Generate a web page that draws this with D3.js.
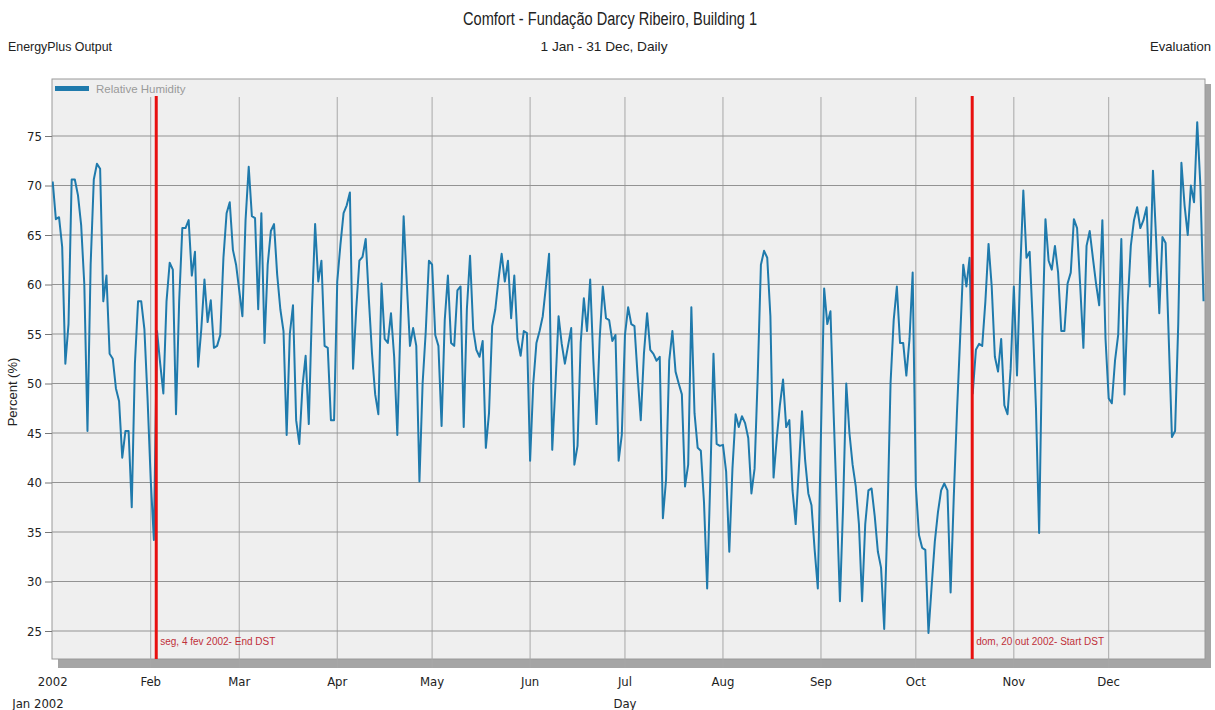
<!DOCTYPE html>
<html>
<head>
<meta charset="utf-8">
<script src="https://cdn.jsdelivr.net/npm/d3@7"></script>
<style>
  body { margin: 0; background: #fff; }
  svg { display: block; }
  text { font-family: "Liberation Sans Narrow", "DejaVu Sans Condensed", "Arial Narrow", sans-serif; }
</style>
</head>
<body>
<div id="chart"></div>
<script>
// daily relative humidity (%), 1 Jan - 31 Dec 2002
var humidity = [
  70.4, 66.6, 66.8, 63.8, 52.0, 56.0, 70.6, 70.6, 69.0, 66.0,
  60.0, 45.2, 62.0, 70.6, 72.2, 71.7, 58.3, 60.9, 53.0, 52.5,
  49.5, 48.2, 42.5, 45.2, 45.2, 37.5, 52.0, 58.3, 58.3, 55.5,
  48.5, 40.3, 34.2, 55.3, 52.0, 49.0, 58.3, 62.2, 61.5, 46.9,
  58.3, 65.7, 65.7, 66.5, 60.9, 63.3, 51.7, 55.5, 60.5, 56.2,
  58.4, 53.6, 53.8, 54.9, 62.7, 67.2, 68.3, 63.5, 62.0, 59.4,
  56.8, 66.5, 71.9, 66.9, 66.7, 57.5, 67.2, 54.1, 62.0, 65.4,
  66.1, 61.0, 57.5, 55.3, 44.8, 55.0, 57.9, 46.3, 43.9, 49.7,
  52.8, 45.9, 57.5, 66.1, 60.3, 62.4, 53.8, 53.6, 46.3, 46.3,
  60.3, 64.0, 67.2, 68.0, 69.3, 51.5, 57.5, 62.4, 62.8, 64.6,
  58.5, 53.0, 48.9, 46.9, 60.1, 54.5, 54.1, 57.1, 52.7, 44.8,
  56.0, 66.9, 60.1, 53.8, 55.6, 53.8, 40.1, 50.0, 55.3, 62.4,
  62.0, 54.9, 53.8, 45.7, 56.4, 60.9, 54.1, 53.8, 59.4, 59.8,
  45.6, 57.5, 62.9, 55.5, 53.4, 52.7, 54.3, 43.5, 47.0, 55.8,
  57.5, 60.5, 63.1, 60.3, 62.4, 56.6, 60.9, 54.5, 52.8, 55.3,
  55.1, 42.2, 50.0, 54.1, 55.3, 56.8, 59.8, 63.1, 43.3, 49.7,
  56.8, 54.0, 52.0, 53.8, 55.6, 41.8, 43.7, 54.1, 58.6, 55.3,
  60.5, 52.3, 45.9, 54.5, 59.8, 56.6, 56.4, 54.3, 54.9, 42.2,
  44.8, 54.9, 57.7, 56.0, 55.8, 50.8, 46.3, 53.0, 57.1, 53.4,
  53.0, 52.3, 52.7, 36.4, 40.3, 52.3, 55.3, 51.2, 50.0, 48.9,
  39.6, 41.8, 57.7, 47.0, 43.5, 43.2, 38.0, 29.3, 40.3, 53.0,
  43.9, 43.7, 43.8, 41.1, 33.0, 41.4, 46.9, 45.6, 46.7, 46.0,
  44.5, 38.9, 41.4, 50.8, 62.0, 63.4, 62.7, 56.8, 40.5, 44.4,
  47.8, 50.4, 45.6, 46.3, 39.2, 35.8, 41.4, 47.2, 42.2, 38.9,
  37.7, 33.2, 29.3, 45.0, 59.6, 56.0, 57.3, 47.0, 37.7, 28.0,
  37.7, 50.0, 45.0, 41.8, 39.6, 35.8, 28.0, 35.8, 39.2, 39.4,
  36.6, 33.0, 31.4, 25.2, 36.0, 50.0, 56.4, 59.8, 54.1, 54.1,
  50.8, 54.5, 61.2, 39.6, 34.7, 33.4, 33.2, 24.8, 29.5, 34.0,
  37.0, 39.2, 39.9, 39.2, 28.9, 38.5, 47.0, 54.5, 62.0, 59.8,
  62.7, 49.0, 53.4, 54.0, 53.8, 58.3, 64.1, 59.8, 52.7, 51.2,
  54.5, 47.8, 46.9, 51.5, 59.8, 50.8, 61.2, 69.5, 62.7, 63.3,
  56.0, 47.5, 34.9, 54.5, 66.6, 62.4, 61.5, 63.9, 61.2, 55.3,
  55.3, 60.1, 61.2, 66.6, 65.7, 59.8, 53.6, 63.9, 65.4, 62.7,
  60.1, 57.9, 66.5, 54.5, 48.5, 48.0, 52.3, 54.9, 64.6, 48.9,
  58.0, 63.9, 66.5, 67.8, 65.7, 66.5, 67.8, 59.8, 71.5, 64.6,
  57.1, 64.8, 64.2, 54.5, 44.6, 45.2, 56.0, 72.3, 68.0, 65.0,
  70.0, 68.3, 76.4, 70.0, 58.3
];

var yTicks = [25, 30, 35, 40, 45, 50, 55, 60, 65, 70, 75];
var monthTicks = ["2002", "Feb", "Mar", "Apr", "May", "Jun", "Jul", "Aug", "Sep", "Oct", "Nov", "Dec"];

// DST markers (positions)
var markerDates = [new Date(2002, 1, 2, 18), new Date(2002, 9, 18, 20)];
var markerLabels = ["seg, 4 fev 2002- End DST", "dom, 20 out 2002- Start DST"];

var width = 1215, height = 710;
var plot = { left: 52, top: 79, right: 1205, bottom: 659 };

var svg = d3.select("#chart").append("svg")
  .attr("width", width).attr("height", height);

var start = new Date(2002, 0, 1);
var data = humidity.map(function(v, i)
{
  return { date: d3.timeDay.offset(start, i), value: v };
});

var xScale = d3.scaleTime()
  .domain([start, new Date(2003, 0, 1)])
  .range([52.7, 1206.7]);
var yScale = d3.scaleLinear().domain([25, 75]).range([631, 136]);

// header texts (squeezed to the narrow face of the original)
function header(x, y, anchor, size, len, str)
{
  svg.append("text").attr("x", x).attr("y", y).attr("text-anchor", anchor)
    .style("font-size", size + "px").attr("fill", "#222")
    .attr("textLength", len).attr("lengthAdjust", "spacingAndGlyphs")
    .style("font-family", "'Liberation Sans', Arial, sans-serif")
    .text(str);
}
header(610, 25, "middle", 18, 294, "Comfort - Fundação Darcy Ribeiro, Building 1");
header(604, 51, "middle", 13, 127, "1 Jan - 31 Dec, Daily");
header(8, 51, "start", 13, 104, "EnergyPlus Output");
header(1211, 51, "end", 13, 61, "Evaluation");

// shadow + plot frame
svg.append("rect").attr("x", plot.left + 6).attr("y", plot.top + 5)
  .attr("width", plot.right - plot.left).attr("height", plot.bottom - plot.top + 4)
  .attr("fill", "#a5a5a5");
svg.append("rect").attr("x", plot.left).attr("y", plot.top)
  .attr("width", plot.right - plot.left).attr("height", plot.bottom - plot.top)
  .attr("fill", "#efefef").attr("stroke", "#9a9a9a").attr("stroke-width", 1);

var months = d3.timeMonth.range(start, new Date(2002, 11, 2));

// vertical grid lines
svg.append("g").selectAll("line").data(months.slice(1)).enter().append("line")
  .attr("x1", function(d) { return xScale(d); })
  .attr("x2", function(d) { return xScale(d); })
  .attr("y1", 97).attr("y2", plot.bottom + 9)
  .attr("stroke", "#a8a8a8").attr("stroke-width", 1);

// horizontal grid lines
svg.append("g").selectAll("line").data(yTicks).enter().append("line")
  .attr("x1", plot.left).attr("x2", plot.right)
  .attr("y1", function(d) { return yScale(d); })
  .attr("y2", function(d) { return yScale(d); })
  .attr("stroke", "#939393").attr("stroke-width", 1.2);

// y axis
var yAxisCall = d3.axisLeft(yScale).tickValues(yTicks).tickSize(7).tickPadding(3);
var yAxis = svg.append("g").attr("transform", "translate(" + plot.left + ",0)").call(yAxisCall);
yAxis.select(".domain").remove();
yAxis.selectAll("line").attr("stroke", "#777");
yAxis.selectAll("text").style("font-size", "13px").attr("fill", "#222")
  .style("font-family", "'Liberation Sans Narrow', 'DejaVu Sans Condensed', sans-serif");

svg.append("text")
  .attr("transform", "translate(17,392) rotate(-90)")
  .attr("text-anchor", "middle").style("font-size", "13px").attr("fill", "#222")
  .style("font-family", "'Liberation Sans', Arial, sans-serif")
  .text("Percent (%)");

// x tick labels
svg.append("g").selectAll("text").data(months).enter().append("text")
  .attr("x", function(d) { return xScale(d); })
  .attr("y", 686).attr("text-anchor", "middle")
  .style("font-size", "13px").attr("fill", "#222")
  .text(function(d, i) { return monthTicks[i]; });
svg.append("text").attr("x", 38).attr("y", 708).attr("text-anchor", "middle")
  .style("font-size", "13px").attr("fill", "#222").text("Jan 2002");
svg.append("text").attr("x", xScale(new Date(2002, 6, 1))).attr("y", 708)
  .attr("text-anchor", "middle").style("font-size", "13px").attr("fill", "#222").text("Day");

// legend
svg.append("rect").attr("x", 55).attr("y", 86).attr("width", 34).attr("height", 5)
  .attr("fill", "#1f7aac");
svg.append("text").attr("x", 96).attr("y", 93)
  .style("font-size", "11.5px").attr("fill", "#9a9a9a")
  .style("font-family", "'Liberation Sans', Arial, sans-serif")
  .text("Relative Humidity");

// clip for the series
svg.append("clipPath").attr("id", "plotclip").append("rect")
  .attr("x", plot.left).attr("y", plot.top)
  .attr("width", plot.right - plot.left).attr("height", plot.bottom - plot.top);

var valueline = d3.line()
  .x(function(d) { return xScale(d.date); })
  .y(function(d) { return yScale(d.value); });

svg.append("path").datum(data)
  .attr("clip-path", "url(#plotclip)")
  .attr("fill", "none").attr("stroke", "#1f7aac").attr("stroke-width", 2)
  .attr("stroke-linejoin", "round")
  .attr("d", valueline);

// DST markers
var mk = svg.append("g").selectAll("g").data(markerDates).enter().append("g");
mk.append("line")
  .attr("x1", function(d) { return xScale(d); })
  .attr("x2", function(d) { return xScale(d); })
  .attr("y1", 96).attr("y2", plot.bottom)
  .attr("stroke", "#e8100f").attr("stroke-width", 3);
mk.append("text")
  .attr("x", function(d) { return xScale(d) + 4; })
  .attr("y", 645)
  .style("font-size", "10px").attr("fill", "#c0303a")
  .style("font-family", "'Liberation Sans', Arial, sans-serif")
  .text(function(d, i) { return markerLabels[i]; });
</script>
</body>
</html>
